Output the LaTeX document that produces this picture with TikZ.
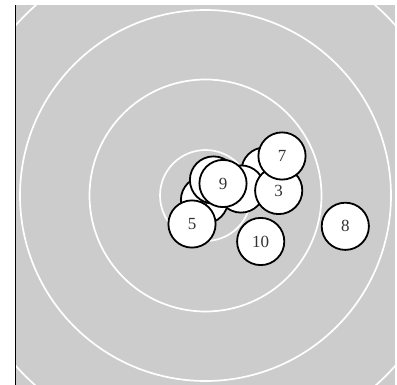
\documentclass[tikz,border=0pt]{standalone}
\usepackage{fontspec}
\setmainfont{Liberation Serif}
\tikzset{shot/.style={circle,draw,fill=white,line width=1.8pt,minimum size=47.2pt,inner sep=0pt,
    font=\fontsize{17}{17}\selectfont,text=black!80}}

\begin{document}
\begin{tikzpicture}[x=1pt,y=-1pt]
    \useasboundingbox (0,0) rectangle (397,385);
    \fill[gray!40] (16,5) rectangle (395,385);
    \draw[line width=1pt] (15.5,5) -- (15.5,385);
    \begin{scope}
      \clip (16,5) rectangle (395,385);
      \foreach \R in {45.5,116,185.5,255}
        {\draw[white,line width=1.7pt] (205.5,195.5) circle (\R);}
    \end{scope}
    % shots in the order they were fired
    \node[shot] (s1) at (265,171) {1};
    \node[shot] (s2) at (241,189) {2};
    \node[shot] (s3) at (278.7,190.5) {3};
    \node[shot] (s4) at (204.5,200) {4};
    \node[shot] (s5) at (192,224) {5};
    \node[shot] (s6) at (213.5,180) {6};
    \node[shot] (s7) at (282,156) {7};
    \node[shot] (s8) at (345.3,226.3) {8};
    \node[shot] (s9) at (223,183.5) {9};
    \node[shot] (s10) at (260.7,241.5) {10};
\end{tikzpicture}
\end{document}
